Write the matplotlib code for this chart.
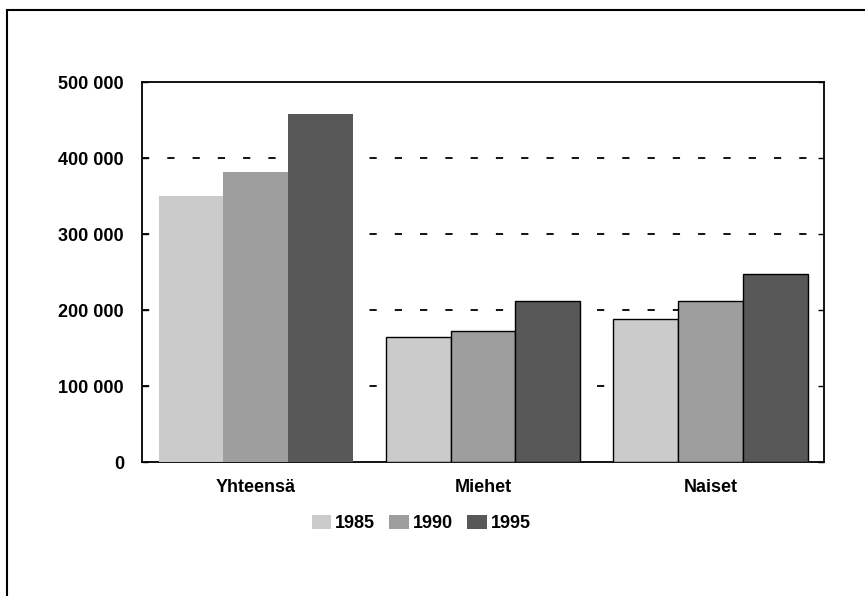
import matplotlib.pyplot as plt
import matplotlib.ticker as mticker
from matplotlib.patches import Rectangle
import numpy as np

plt.rcParams['font.family'] = ['Liberation Sans', 'DejaVu Sans']
plt.rcParams['font.weight'] = 'bold'

categories = ['Yhteensä', 'Miehet', 'Naiset']
years = ['1985', '1990', '1995']
v1985 = [350000, 164000, 188000]
v1990 = [381000, 172000, 212000]
v1995 = [458000, 212000, 247000]
colors = ['#cbcbcb', '#9e9e9e', '#585858']

fig = plt.figure(figsize=(8.65, 5.96), dpi=100)
ax = fig.add_axes([0.1642, 0.2248, 0.9526 - 0.1642, 0.8624 - 0.2248])

x = np.arange(len(categories))
w = 0.285
for i, (vals, yr) in enumerate(zip([v1985, v1990, v1995], years)):
    ax.bar(x + (i - 1) * w, vals, width=w, color=colors[i], edgecolor='black',
           linewidth=1.0, label=yr, zorder=3)

ax.set_xlim(-0.5, 2.5)
ax.set_ylim(0, 500000)
ax.set_yticks(range(0, 500001, 100000))
ax.yaxis.set_major_formatter(mticker.FuncFormatter(lambda v, p: f'{int(v):,}'.replace(',', ' ')))
ax.set_xticks(x)
ax.set_xticklabels(categories)

for g in range(100000, 500000, 100000):
    ax.axhline(g, color='black', linewidth=1.3, linestyle=(0, (4, 10)), zorder=1)

for s in ax.spines.values():
    s.set_linewidth(1.3)
ax.tick_params(axis='y', direction='in', length=4, width=1, pad=13, labelsize=13, right=True)
ax.tick_params(axis='x', length=0, pad=12, labelsize=13)

handles, labels = ax.get_legend_handles_labels()
for h in handles:
    h.patches[0].set_edgecolor('none')
leg = fig.legend(handles, labels, loc='center', bbox_to_anchor=(0.487, 0.121), ncol=3,
                 frameon=False, fontsize=13, handlelength=1.1, handleheight=0.8,
                 handletextpad=0.2, columnspacing=0.8)

# outer frame of the scanned page
fig.patches.append(Rectangle((7 / 865, -0.1), 1.2, 1 - 10 / 596 + 0.1, transform=fig.transFigure,
                             fill=False, edgecolor='black', linewidth=1.5))

fig.savefig('out.png', dpi=100)
